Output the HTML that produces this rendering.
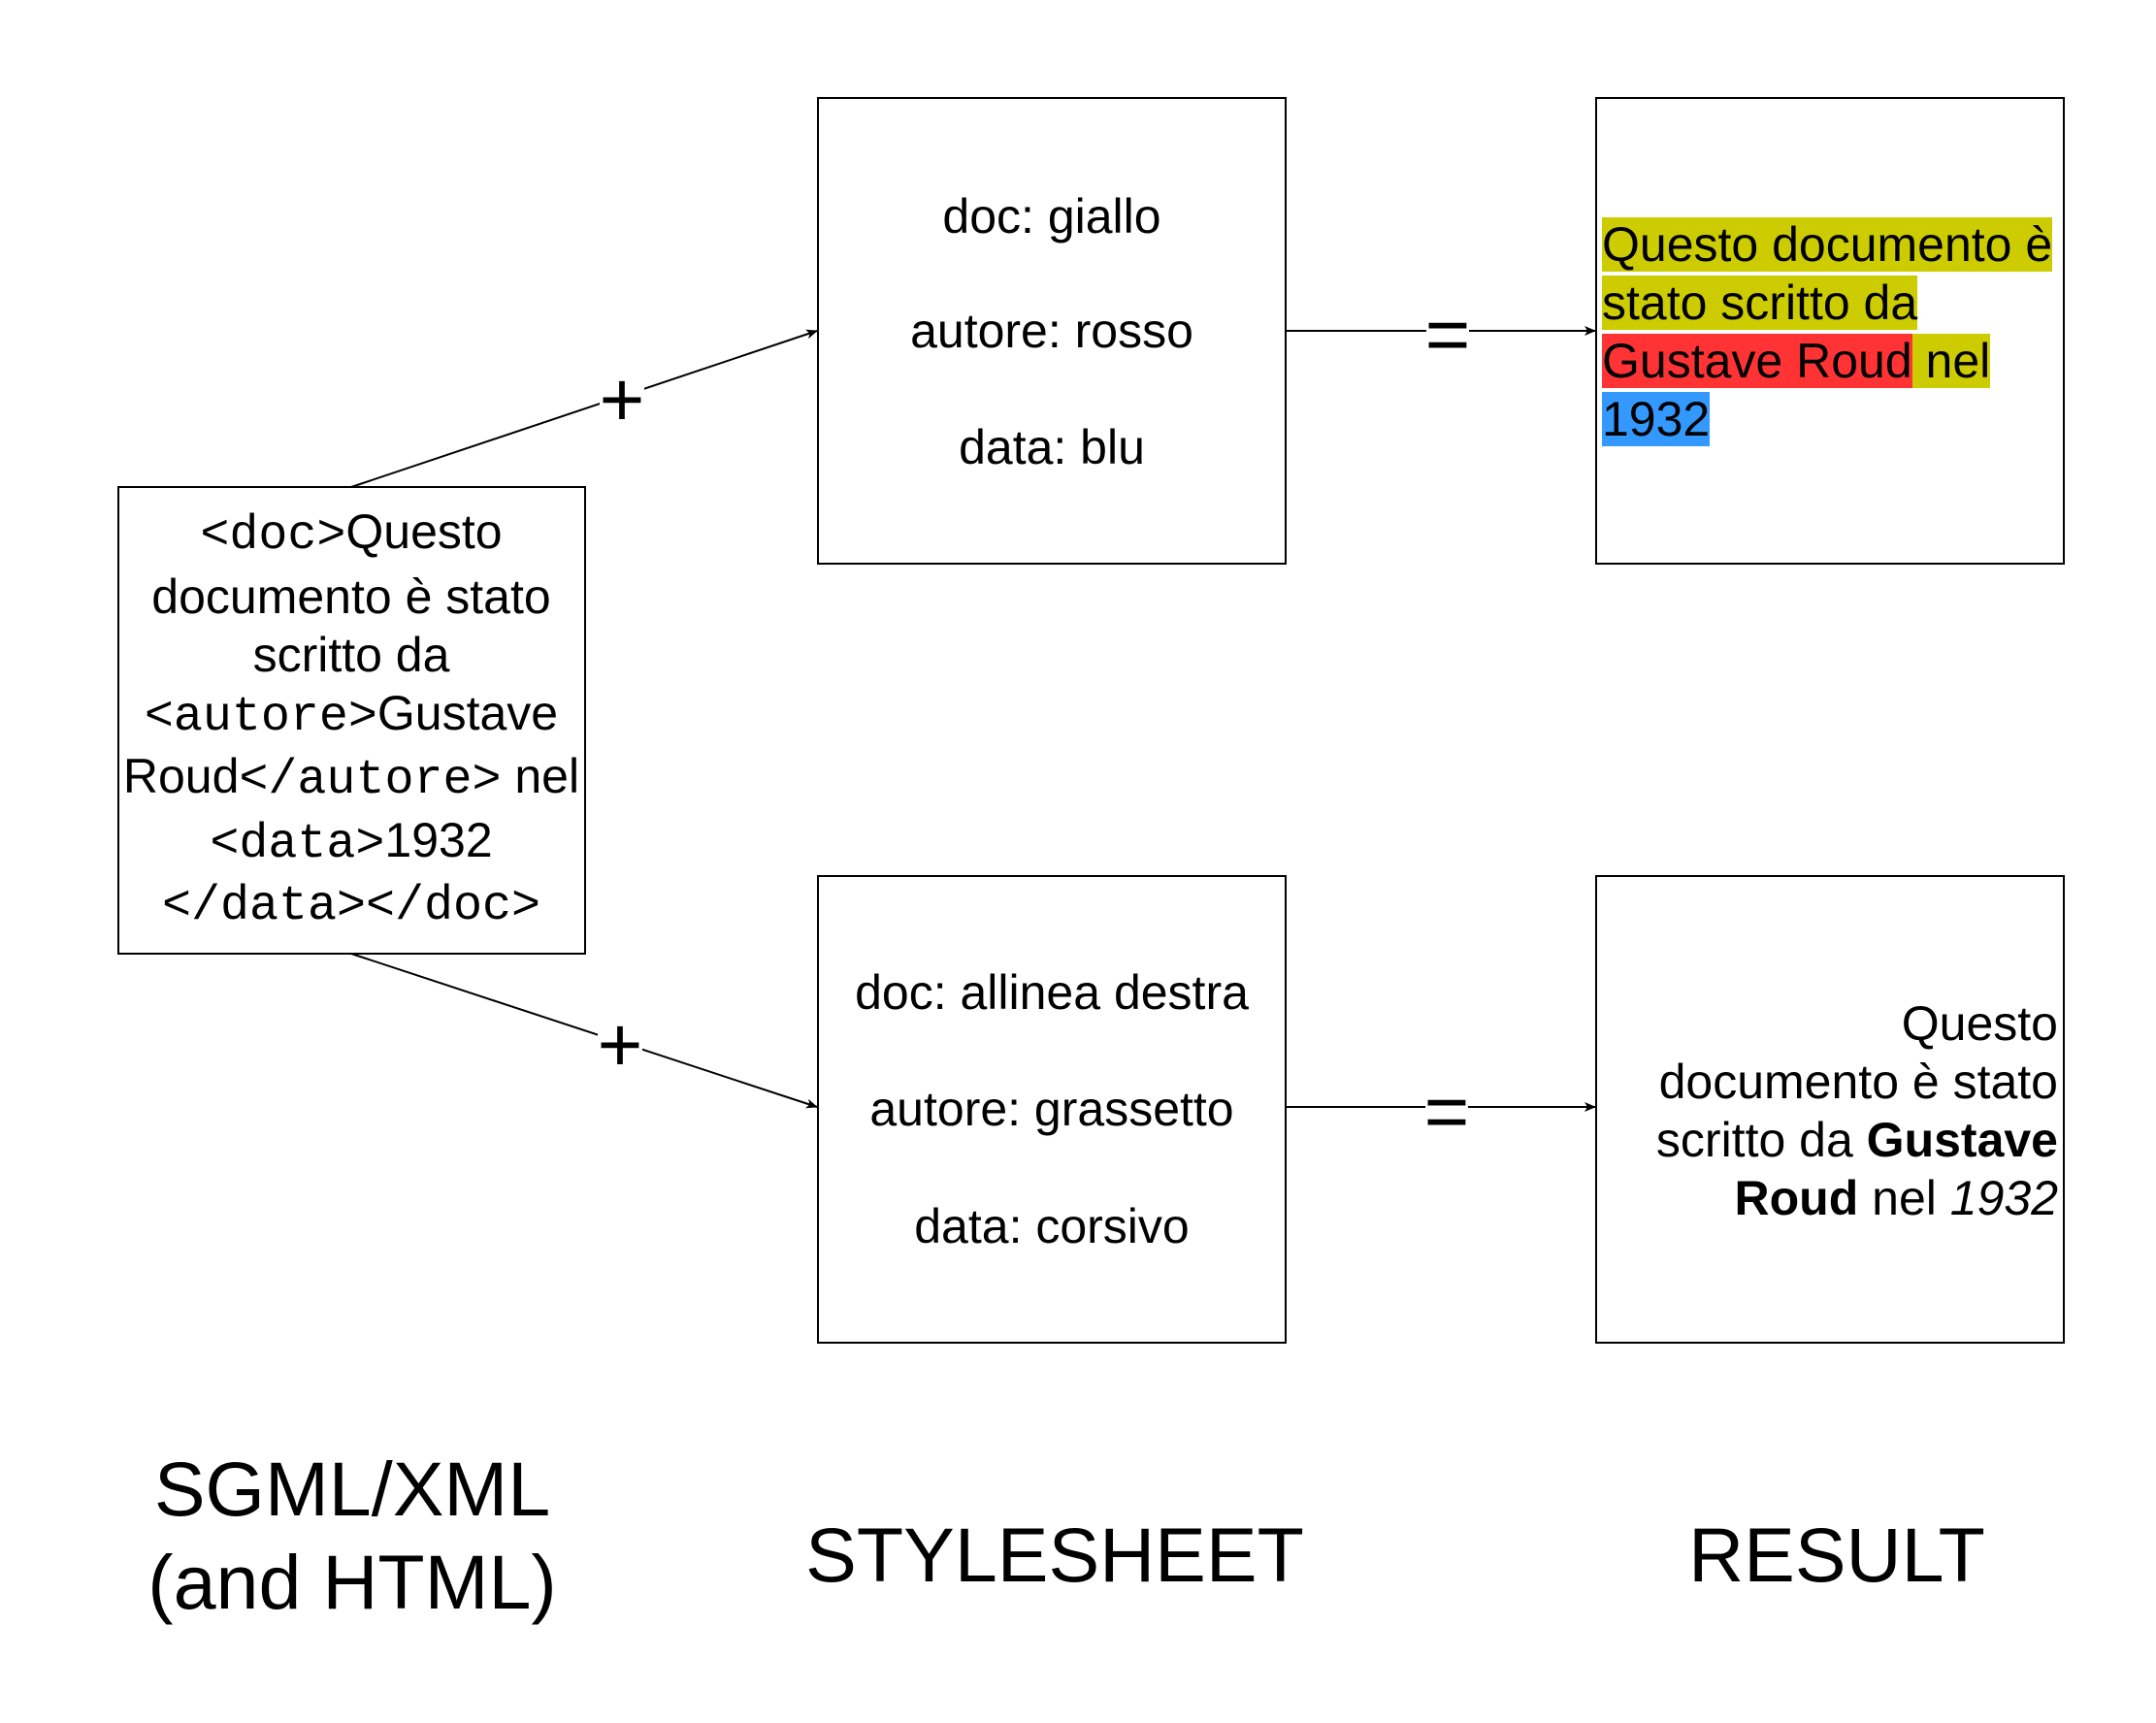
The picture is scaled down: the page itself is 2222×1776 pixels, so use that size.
<!DOCTYPE html>
<html><head><meta charset="utf-8"><style>
html,body{margin:0;padding:0;background:#fff;}
body{width:2222px;height:1776px;position:relative;overflow:hidden;font-family:"Liberation Sans",sans-serif;}
svg{position:absolute;left:0;top:0;}
.res{position:absolute;font-size:50px;line-height:60px;color:#000;white-space:nowrap;}
.y{background:#cccc00}.r{background:#ff3333}.b{background:#3399ff}
</style></head><body>
<svg width="2222" height="1776" viewBox="0 0 2222 1776">
<defs><marker id="a" markerWidth="12" markerHeight="10" refX="11" refY="5" orient="auto" markerUnits="userSpaceOnUse"><path d="M0,0 L12,5 L0,10 L3,5 Z" fill="#000"/></marker></defs>
<g fill="none" stroke="#000" stroke-width="2">
<rect x="122" y="502" width="481" height="481"/>
<rect x="843" y="101" width="482" height="480"/>
<rect x="1645" y="101" width="482" height="480"/>
<rect x="843" y="903" width="482" height="481"/>
<rect x="1645" y="903" width="482" height="481"/>
<line x1="362" y1="502" x2="842" y2="341" marker-end="url(#a)"/>
<line x1="362" y1="983" x2="842" y2="1141" marker-end="url(#a)"/>
<line x1="1325" y1="341" x2="1644" y2="341" marker-end="url(#a)"/>
<line x1="1325" y1="1141" x2="1644" y2="1141" marker-end="url(#a)"/>
</g>
<g fill="#fff">
<rect x="618" y="382" width="46" height="56"/>
<rect x="616" y="1048" width="46" height="56"/>
<rect x="1470" y="318" width="44" height="50"/>
<rect x="1469" y="1118" width="44" height="50"/>
</g>
<g font-family="Liberation Sans, sans-serif" font-size="80" text-anchor="middle" fill="#000">
<text x="641" y="439">+</text>
<text x="639" y="1104">+</text>
<text x="1492" y="372">=</text>
<text x="1491" y="1173">=</text>
</g>
<g font-family="Liberation Sans, sans-serif" font-size="50" text-anchor="middle" fill="#000">
<text x="362" y="565"><tspan font-family="Liberation Mono, monospace">&lt;doc&gt;</tspan>Questo</text>
<text x="362" y="632">documento è stato</text>
<text x="362" y="692">scritto da</text>
<text x="362" y="752"><tspan font-family="Liberation Mono, monospace">&lt;autore&gt;</tspan>Gustave</text>
<text x="362" y="817">Roud<tspan font-family="Liberation Mono, monospace">&lt;/autore&gt;</tspan> nel</text>
<text x="362" y="883"><tspan font-family="Liberation Mono, monospace">&lt;data&gt;</tspan>1932</text>
<text x="362" y="947" font-family="Liberation Mono, monospace">&lt;/data&gt;&lt;/doc&gt;</text>
<text x="1084" y="240">doc: giallo</text>
<text x="1084" y="358">autore: rosso</text>
<text x="1084" y="478">data: blu</text>
<text x="1084" y="1040">doc: allinea destra</text>
<text x="1084" y="1160">autore: grassetto</text>
<text x="1084" y="1281">data: corsivo</text>
</g>
<g font-family="Liberation Sans, sans-serif" font-size="79" text-anchor="middle" fill="#000">
<text x="363" y="1562">SGML/XML</text>
<text x="363" y="1658">(and HTML)</text>
<text x="1087" y="1630">STYLESHEET</text>
<text x="1893" y="1630">RESULT</text>
</g>
</svg>
<div class="res" style="left:1651px;top:222px;"><span class="y">Questo documento è</span><br><span class="y">stato scritto da</span><br><span class="r">Gustave Roud</span><span class="y"> nel</span><br><span class="b">1932</span></div>
<div class="res" style="right:101px;top:1025px;text-align:right;">Questo<br>documento è stato<br>scritto da <b>Gustave</b><br><b>Roud</b> nel <i>1932</i></div>
</body></html>
